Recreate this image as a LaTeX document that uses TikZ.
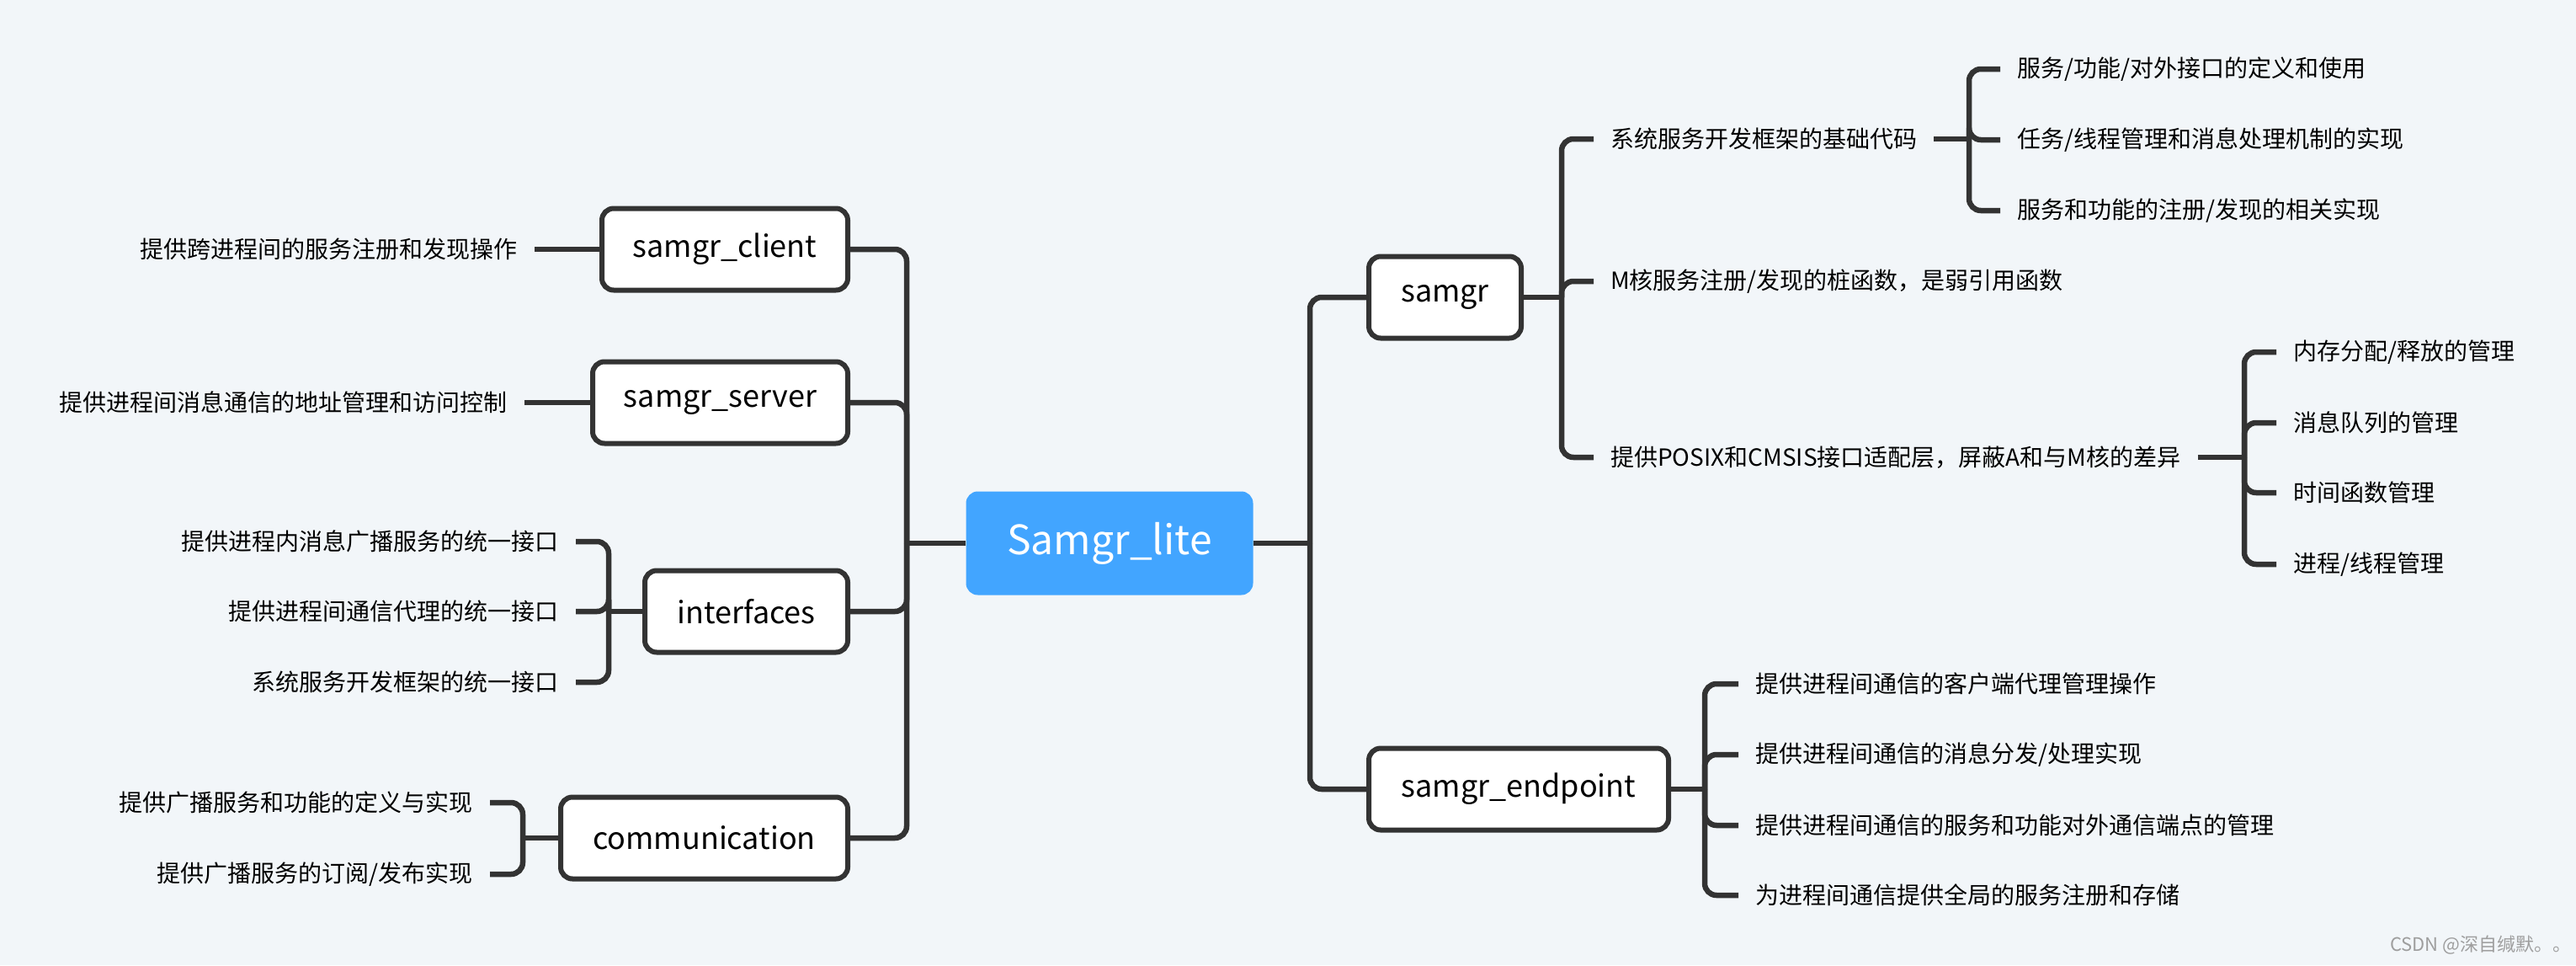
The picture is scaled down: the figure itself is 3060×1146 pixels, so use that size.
\documentclass[tikz,border=0pt]{standalone}
\usepackage{fontspec}
\setmainfont{Noto Sans CJK SC}
\usepackage{xcolor}
\usepackage{tikz}
\definecolor{bgcol}{RGB}{242,246,249}
\definecolor{linecol}{RGB}{51,51,51}
\definecolor{rootcol}{RGB}{66,165,255}

\begin{document}
\begin{tikzpicture}[x=1pt, y=-1pt,
        root/.style={fill=rootcol, text=white, rounded corners=14pt, minimum width=341pt, minimum height=123pt, font=\fontsize{48}{58}\selectfont},
        topic/.style={draw=linecol, line width=6pt, fill=white, rounded corners=14pt, minimum height=97pt, inner xsep=10pt, font=\fontsize{36}{44}\selectfont},
        leaf/.style={inner xsep=20pt, inner ysep=0pt, font=\fontsize{28}{34}\selectfont},
        branch/.style={draw=linecol, line width=6.5pt, rounded corners=14pt}]
                \fill[bgcol] (0, 0) rectangle (3060, 1146);
                \useasboundingbox (0, 0) rectangle (3060, 1146);

                \node[root] (lite) at (1318, 645) {Samgr\_lite};

                \node[topic, anchor=east, minimum width=292pt] (client) at (1010, 296) {samgr\_client};
                \node[topic, anchor=east, minimum width=303pt] (server) at (1010, 478) {samgr\_server};
                \node[topic, anchor=east, minimum width=241pt] (interfaces) at (1010, 726) {interfaces};
                \node[topic, anchor=east, minimum width=341pt] (communication) at (1010, 995) {communication};
                \node[topic, anchor=west, minimum width=181pt] (samgr) at (1623, 353) {samgr};
                \node[topic, anchor=west, minimum width=356pt] (endpoint) at (1623, 937) {samgr\_endpoint};

                \node[leaf, anchor=east] (cl) at (635, 296) {提供跨进程间的服务注册和发现操作};
                \node[leaf, anchor=east] (sv) at (623, 478) {提供进程间消息通信的地址管理和访问控制};
                \node[leaf, anchor=east] (i1) at (684, 643) {提供进程内消息广播服务的统一接口};
                \node[leaf, anchor=east] (i2) at (684, 726) {提供进程间通信代理的统一接口};
                \node[leaf, anchor=east] (i3) at (684, 810) {系统服务开发框架的统一接口};
                \node[leaf, anchor=east] (c1) at (582, 953) {提供广播服务和功能的定义与实现};
                \node[leaf, anchor=east] (c2) at (582, 1038) {提供广播服务的订阅/发布实现};

                \node[leaf, anchor=west] (s1) at (1893, 165) {系统服务开发框架的基础代码};
                \node[leaf, anchor=west] (s2) at (1893, 334) {M核服务注册/发现的桩函数，是弱引用函数};
                \node[leaf, anchor=west] (s3) at (1893, 543) {提供POSIX和CMSIS接口适配层，屏蔽A和与M核的差异};
                \node[leaf, anchor=west] (a1) at (2376, 82) {服务/功能/对外接口的定义和使用};
                \node[leaf, anchor=west] (a2) at (2376, 166) {任务/线程管理和消息处理机制的实现};
                \node[leaf, anchor=west] (a3) at (2376, 250) {服务和功能的注册/发现的相关实现};
                \node[leaf, anchor=west] (b1) at (2704, 418) {内存分配/释放的管理};
                \node[leaf, anchor=west] (b2) at (2704, 502) {消息队列的管理};
                \node[leaf, anchor=west] (b3) at (2704, 585) {时间函数管理};
                \node[leaf, anchor=west] (b4) at (2704, 670) {进程/线程管理};
                \node[leaf, anchor=west] (e1) at (2065, 812) {提供进程间通信的客户端代理管理操作};
                \node[leaf, anchor=west] (e2) at (2065, 896) {提供进程间通信的消息分发/处理实现};
                \node[leaf, anchor=west] (e3) at (2065, 980) {提供进程间通信的服务和功能对外通信端点的管理};
                \node[leaf, anchor=west] (e4) at (2065, 1063) {为进程间通信提供全局的服务注册和存储};

                \node[anchor=east, text=black!38, font=\fontsize{22}{26}\selectfont] (mark) at (3058, 1122) {CSDN @深自缄默。。};

                \coordinate (lj) at (1077, 645);
                \coordinate (rj) at (1556, 645);
                \coordinate (ij) at (723, 726);
                \coordinate (cj) at (621, 995);
                \coordinate (sj) at (1855, 353);
                \coordinate (aj) at (2339, 165);
                \coordinate (bj) at (2666, 543);
                \coordinate (ej) at (2025, 937);

                \draw[branch] (lite.west) -- (lj);
                \draw[branch] (lite.east) -- (rj);
                \foreach \n in {client, server, interfaces, communication}
                    \draw[branch] (lj) |- (\n.east);
                \foreach \n in {samgr, endpoint}
                    \draw[branch] (rj) |- (\n.west);

                \draw[branch] (client.west) -- (cl.east);
                \draw[branch] (server.west) -- (sv.east);
                \draw[branch] (interfaces.west) -- (ij);
                \foreach \n in {i1, i2, i3}
                    \draw[branch] (ij) |- (\n.east);
                \draw[branch] (communication.west) -- (cj);
                \foreach \n in {c1, c2}
                    \draw[branch] (cj) |- (\n.east);

                \draw[branch] (samgr.east) -- (sj);
                \foreach \n in {s1, s2, s3}
                    \draw[branch] (sj) |- (\n.west);
                \draw[branch] (s1.east) -- (aj);
                \foreach \n in {a1, a2, a3}
                    \draw[branch] (aj) |- (\n.west);
                \draw[branch] (s3.east) -- (bj);
                \foreach \n in {b1, b2, b3, b4}
                    \draw[branch] (bj) |- (\n.west);
                \draw[branch] (endpoint.east) -- (ej);
                \foreach \n in {e1, e2, e3, e4}
                    \draw[branch] (ej) |- (\n.west);
\end{tikzpicture}
\end{document}
